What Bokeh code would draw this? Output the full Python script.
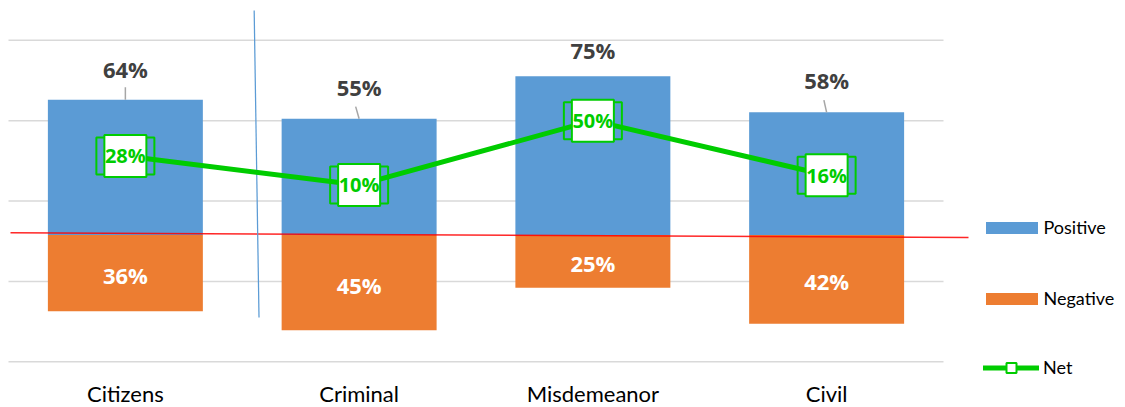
import math
from bokeh.plotting import figure
from bokeh.models import Range1d, Legend, LegendItem, ColumnDataSource
from bokeh.core.properties import value
from bokeh.embed import file_html
from bokeh.resources import INLINE

# ---- data ----
categories = ["Citizens", "Criminal", "Misdemeanor", "Civil"]
positive = [64, 55, 75, 58]
negative = [-36, -45, -25, -42]
net = [28, 10, 50, 16]
grid_ticks = [-100, -50, 0, 50, 100]

# ---- styles ----
BLUE = "#5B9BD5"
ORANGE = "#ED7D31"
GREEN = "#00CC00"
GRID = "#D9D9D9"
LABEL_GREY = "#404040"

W, H = 1125, 407
xs = [i + 0.5 for i in range(len(categories))]

p = figure(width=W, height=H, output_backend="svg", toolbar_location=None,
           x_range=Range1d(-0.0342, 4.7786), y_range=Range1d(-81.56, 110.87),
           x_axis_type=None, y_axis_type=None, min_border=0,
           outline_line_color=None, background_fill_color="white")
p.extra_y_ranges = {"net": Range1d(-128.46, 124.73)}

# gridlines (secondary axis ticks), spanning the category area only
p.segment(x0=[0] * len(grid_ticks), x1=[len(categories)] * len(grid_ticks),
          y0=grid_ticks, y1=grid_ticks, y_range_name="net",
          line_color=GRID, line_width=1.5)

src = ColumnDataSource(dict(x=xs, cat=categories, pos=positive, neg=negative, net=net,
                            pos_lbl=[f"{v}%" for v in positive],
                            neg_lbl=[f"{abs(v)}%" for v in negative],
                            net_lbl=[f"{v}%" for v in net],
                            neg_mid=[v / 2 for v in negative],
                            pos_dy=[-31, -32, -26, -32]))

pos_r = p.vbar(x="x", top="pos", bottom=0, width=0.663, source=src,
               fill_color=BLUE, line_color=None)
neg_r = p.vbar(x="x", top=0, bottom="neg", width=0.663, source=src,
               fill_color=ORANGE, line_color=None)

# hand-drawn annotation lines
p.segment(x0=[0.0086], y0=[1.04], x1=[4.107], y1=[-1.18],
          line_color="#FF0000", line_width=1.5, line_alpha=0.85)
p.segment(x0=[1.051], y0=[106.1], x1=[1.0717], y1=[-39.0],
          line_color=BLUE, line_width=1.25)

# leader lines
lead_idx = [0, 1, 3]
p.ray(x=[xs[i] for i in lead_idx], y=[positive[i] for i in lead_idx],
      length=12.5, length_units="screen",
      angle=[math.pi / 2, math.pi / 2 + 0.28, math.pi / 2 + 0.22],
      line_color="#A6A6A6", line_width=1.5)

# data labels
p.text(x="x", y="pos", text="pos_lbl", y_offset="pos_dy", source=src,
       text_font=value("Open Sans"), text_font_style="bold", text_font_size="22px",
       text_color=LABEL_GREY, text_align="center", text_baseline="middle")
p.text(x="x", y="neg_mid", text="neg_lbl", y_offset=2, source=src,
       text_font=value("Open Sans"), text_font_style="bold", text_font_size="22px",
       text_color="white", text_align="center", text_baseline="middle")

# net line + boxed labels
net_line = p.line(x="x", y="net", source=src, y_range_name="net",
                  line_color=GREEN, line_width=5, line_cap="round", line_join="round")
p.rect(x="x", y="net", width=58, height=37, width_units="screen", height_units="screen",
       source=src, y_range_name="net", fill_color=None, line_color=GREEN, line_width=2)
net_sq = p.scatter(x="x", y="net", marker="square", size=42, source=src, y_range_name="net",
                   fill_color="white", line_color=GREEN, line_width=2)
p.text(x="x", y="net", text="net_lbl", source=src, y_range_name="net",
       text_font=value("Open Sans"), text_font_style="bold", text_font_size="20px",
       text_color=GREEN, text_align="center", text_baseline="middle")

# category labels
p.text(x="x", y=-100, text="cat", source=src, y_range_name="net", y_offset=31.5,
       text_font=value("Lato"), text_font_size="22px", text_color="#000000",
       text_align="center", text_baseline="middle")

# legends
leg_style = dict(padding=0, margin=0, border_line_alpha=0, background_fill_alpha=0,
                 label_text_font="Lato", label_text_font_size="18px",
                 label_text_color="#000000", label_height=20)
leg1 = Legend(items=[LegendItem(label="Positive", renderers=[pos_r]),
                     LegendItem(label="Negative", renderers=[neg_r])],
              location=(978.5, 97.6), glyph_width=65, glyph_height=15, spacing=49,
              label_standoff=0, **leg_style)
leg2 = Legend(items=[LegendItem(label="Net", renderers=[net_line, net_sq])],
              location=(983, 27.5), glyph_width=56, glyph_height=25,
              label_standoff=4, **leg_style)
p.add_layout(leg1)
p.add_layout(leg2)

open("out.html", "w").write(file_html(p, INLINE))
